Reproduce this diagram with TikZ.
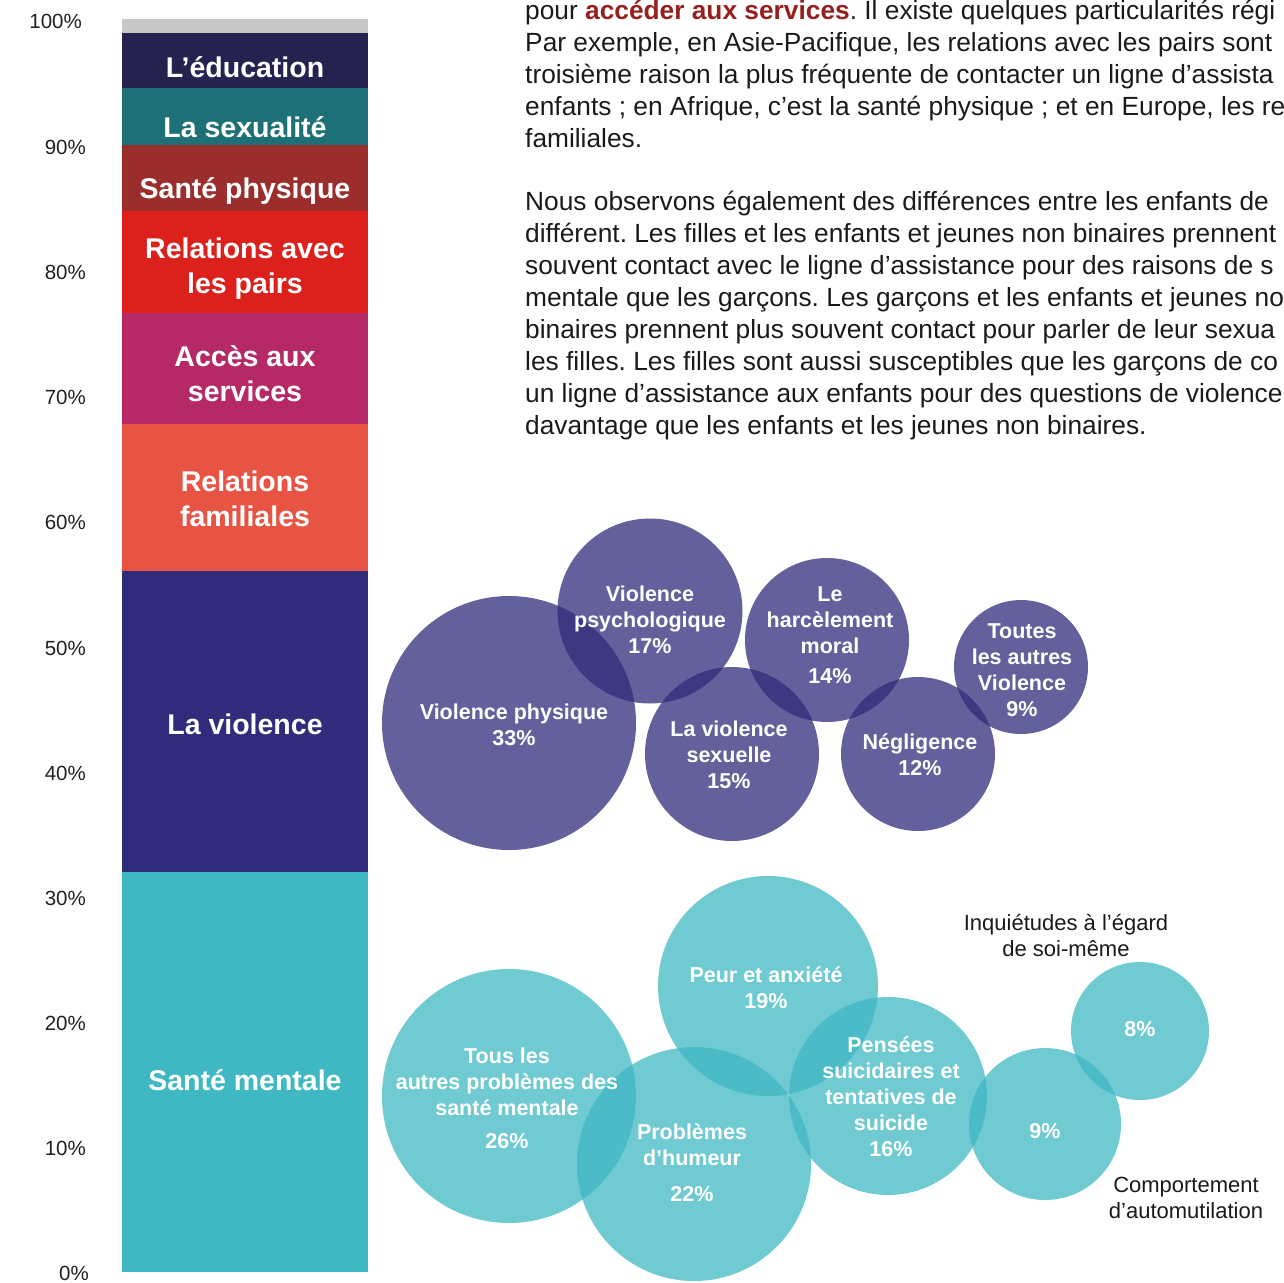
\documentclass[tikz,border=0pt]{standalone}
\usepackage{fontspec}
\setmainfont{Liberation Sans}
\frenchspacing
\definecolor{cgray}{HTML}{C8C8C8}
\definecolor{ceduc}{HTML}{262250}
\definecolor{csex}{HTML}{1D7076}
\definecolor{cphys}{HTML}{9B2E2D}
\definecolor{cpairs}{HTML}{DC211C}
\definecolor{cacces}{HTML}{B52A66}
\definecolor{cfam}{HTML}{E85444}
\definecolor{cviol}{HTML}{302B7A}
\definecolor{cment}{HTML}{3FB8C3}
\definecolor{caxis}{HTML}{231F20}
\definecolor{cbody}{HTML}{1A1A1A}
\definecolor{cred}{HTML}{96201E}
\begin{document}
\begin{tikzpicture}[x=1pt,y=-1pt,
  barlab/.style={text=white,font=\fontsize{28.5}{35}\selectfont\bfseries,align=center,inner sep=0pt,anchor=base},
  axlab/.style={text=caxis,font=\fontsize{20.5}{24}\selectfont,anchor=base east,inner sep=0pt},
  bub/.style={text=white,font=\fontsize{21.5}{26}\selectfont\bfseries,align=center,inner sep=0pt,anchor=base},
  bodyline/.style={text=cbody,font=\fontsize{26.3}{32}\selectfont\frenchspacing,anchor=base west,inner sep=0pt},
  note/.style={text=cbody,font=\fontsize{22}{26}\selectfont,align=center,inner sep=0pt,anchor=base},
  violbub/.style={fill=cviol,fill opacity=0.75},
  mentbub/.style={fill=cment,fill opacity=0.75}
]
\useasboundingbox (0,0) rectangle (1284,1282);
\clip (0,0) rectangle (1284,1282);

% stacked bar
\fill[cgray]  (122,19)  rectangle (368,33);
\fill[ceduc]  (122,33)  rectangle (368,88);
\fill[csex]   (122,88)  rectangle (368,145);
\fill[cphys]  (122,145) rectangle (368,211);
\fill[cpairs] (122,211) rectangle (368,313);
\fill[cacces] (122,313) rectangle (368,424);
\fill[cfam]   (122,424) rectangle (368,571);
\fill[cviol]  (122,571) rectangle (368,872);
\fill[cment]  (122,872) rectangle (368,1272);

% (multi-line nodes: anchor=base is the baseline of the last line)
\node[barlab] (leduc) at (245,77) {L’éducation};
\node[barlab] (lsex) at (245,137) {La sexualité};
\node[barlab] (lphys) at (245,198) {Santé physique};
\node[barlab] (lpairs) at (245,293) {Relations avec\\les pairs};
\node[barlab] (lacces) at (245,401) {Accès aux\\services};
\node[barlab] (lfam) at (245,526) {Relations\\familiales};
\node[barlab] (lviol) at (245,734) {La violence};
\node[barlab] (lment) at (245,1090) {Santé mentale};

% axis labels
\node[axlab] (a100) at (82,28) {100\%};
\node[axlab] (a90) at (86,154) {90\%};
\node[axlab] (a80) at (86,279) {80\%};
\node[axlab] (a70) at (86,404) {70\%};
\node[axlab] (a60) at (86,529) {60\%};
\node[axlab] (a50) at (86,655) {50\%};
\node[axlab] (a40) at (86,780) {40\%};
\node[axlab] (a30) at (86,905) {30\%};
\node[axlab] (a20) at (86,1030) {20\%};
\node[axlab] (a10) at (86,1155) {10\%};
\node[axlab] (a0) at (89,1280) {0\%};

% body text
\node[bodyline] (p1) at (525,19) {pour \textbf{\color{cred}accéder aux services}. Il existe quelques particularités régi};
\node[bodyline] (p2) at (525,51) {Par exemple, en Asie-Pacifique, les relations avec les pairs sont};
\node[bodyline] (p3) at (525,83) {troisième raison la plus fréquente de contacter un ligne d’assista};
\node[bodyline] (p4) at (525,115) {enfants ; en Afrique, c’est la santé physique ; et en Europe, les re};
\node[bodyline] (p5) at (525,147) {familiales.};
\node[bodyline] (q1) at (525,210) {Nous observons également des différences entre les enfants de};
\node[bodyline] (q2) at (525,242) {différent. Les filles et les enfants et jeunes non binaires prennent};
\node[bodyline] (q3) at (525,274) {souvent contact avec le ligne d’assistance pour des raisons de s};
\node[bodyline] (q4) at (525,306) {mentale que les garçons. Les garçons et les enfants et jeunes no};
\node[bodyline] (q5) at (525,338) {binaires prennent plus souvent contact pour parler de leur sexua};
\node[bodyline] (q6) at (525,370) {les filles. Les filles sont aussi susceptibles que les garçons de co};
\node[bodyline] (q7) at (525,402) {un ligne d’assistance aux enfants pour des questions de violence};
\node[bodyline] (q8) at (525,434) {davantage que les enfants et les jeunes non binaires.};

% violence bubbles
\fill[violbub] (509,723) circle[radius=127pt];
\fill[violbub] (650,611) circle[radius=92.5pt];
\fill[violbub] (732,754) circle[radius=87pt];
\fill[violbub] (827,640) circle[radius=82pt];
\fill[violbub] (918,754) circle[radius=77pt];
\fill[violbub] (1021,667) circle[radius=67pt];

% mental health bubbles
\fill[mentbub] (509,1096) circle[radius=127pt];
\fill[mentbub] (694,1164) circle[radius=117pt];
\fill[mentbub] (768,986) circle[radius=110pt];
\fill[mentbub] (888,1096) circle[radius=99pt];
\fill[mentbub] (1045,1124) circle[radius=76pt];
\fill[mentbub] (1140,1031) circle[radius=69pt];

% bubble labels
\node[bub] (bvp) at (514,745) {Violence physique\\33\%};
\node[bub] (bpsy) at (650,653) {Violence\\psychologique\\17\%};
\node[bub] (bhar) at (830,683) {Le\\harcèlement\\moral\\[4pt]14\%};
\node[bub] (bsex) at (729,788) {La violence\\sexuelle\\15\%};
\node[bub] (bneg) at (920,775) {Négligence\\12\%};
\node[bub] (baut) at (1022,716) {Toutes\\les autres\\Violence\\9\%};
\node[bub] (btous) at (507,1148) {Tous les\\autres problèmes des\\santé mentale\\[7pt]26\%};
\node[bub] (bhum) at (692,1201) {Problèmes\\d’humeur\\[10pt]22\%};
\node[bub] (bpeur) at (766,1008) {Peur et anxiété\\19\%};
\node[bub] (bpens) at (891,1156) {Pensées\\suicidaires et\\tentatives de\\suicide\\16\%};
\node[bub] (bauto) at (1045,1138) {9\%};
\node[bub] (bsoi) at (1140,1036) {8\%};

% outside labels
\node[note] (nsoi) at (1066,956) {Inquiétudes à l’égard\\de soi-même};
\node[note] (nauto) at (1186,1218) {Comportement\\d’automutilation};
\end{tikzpicture}
\end{document}
